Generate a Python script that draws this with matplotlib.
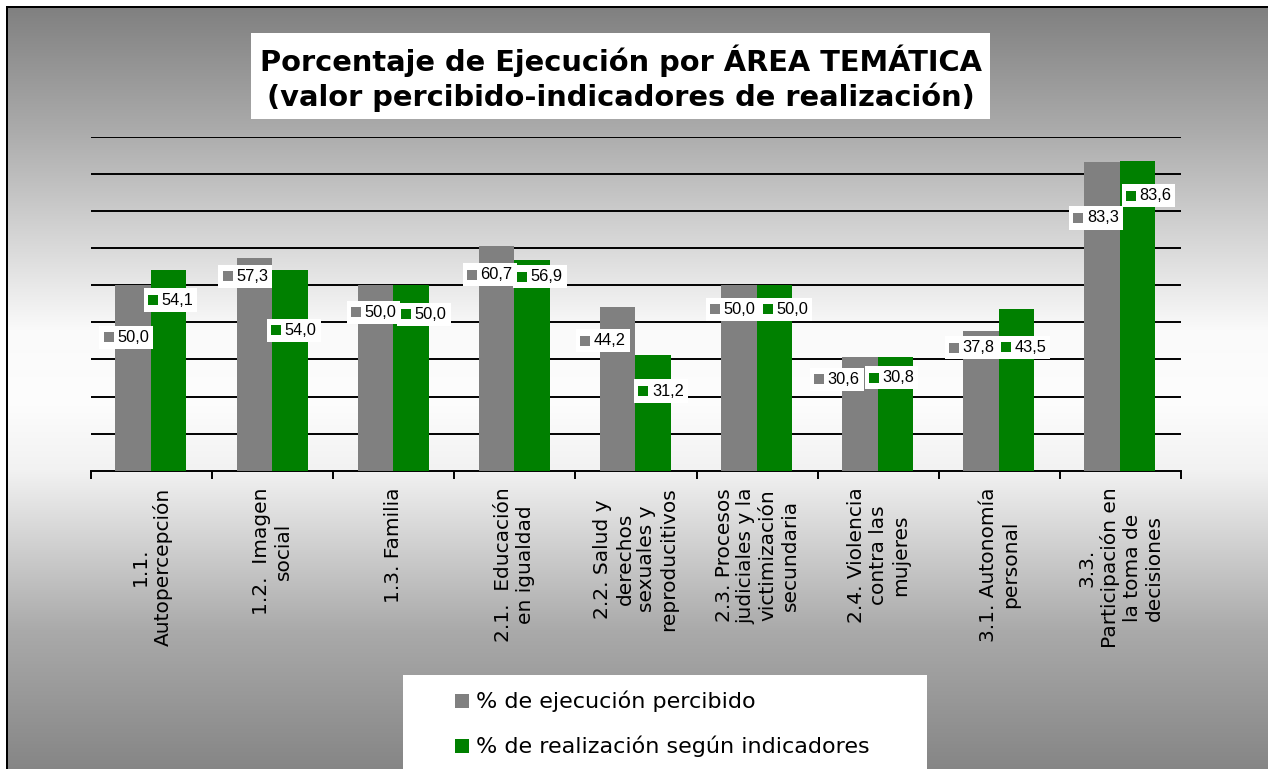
import numpy as np
import matplotlib
matplotlib.use("Agg")
import matplotlib.pyplot as plt
from matplotlib.patches import Rectangle
from matplotlib.offsetbox import DrawingArea, TextArea, HPacker, AnnotationBbox

# ---------------- data ----------------
categories = [
    "1.1.\nAutopercepción",
    "1.2.  Imagen\nsocial",
    "1.3. Familia",
    "2.1.  Educación\nen igualdad",
    "2.2. Salud y\nderechos\nsexuales y\nreproducitivos",
    "2.3. Procesos\njudiciales y la\nvictimización\nsecundaria",
    "2.4. Violencia\ncontra las\nmujeres",
    "3.1. Autonomía\npersonal",
    "3.3.\nParticipación en\nla toma de\ndecisiones",
]
percibido = [50.0, 57.3, 50.0, 60.7, 44.2, 50.0, 30.6, 37.8, 83.3]
indicadores = [54.1, 54.0, 50.0, 56.9, 31.2, 50.0, 30.8, 43.5, 83.6]
series_names = ["% de ejecución percibido", "% de realización según indicadores"]
title = "Porcentaje de Ejecución por ÁREA TEMÁTICA\n(valor percibido-indicadores de realización)"

# label placement offsets (pixels from bar top centre)
lab_off_gray = [(-7, -52), (-9, -18), (-2, -27), (-7, -29), (-15, -34),
                (-6, -24), (-23, -22), (-9, -17), (-6, -56)]
lab_off_green = [(2, -30), (4, -60), (13, -29), (8, -17), (8, -36),
                 (11, -24), (-4, -21), (7, -38), (11, -35)]

GRAY = "#808080"
GREEN = "#008000"
W, H = 1268, 769

fig = plt.figure(figsize=(W / 100, H / 100), dpi=100)

# ---------------- background gradient (pixel image) ----------------
rows = np.arange(H) + 0.5
knots_y = [7, 130, 330, 400, 470, 630, 775]
knots_v = [0x80, 0xab, 0xfa, 0xfd, 0xf2, 0xaa, 0x84]
vals = np.interp(rows, knots_y, knots_v) / 255.0
img = np.ones((H, W, 3))
img[:, :, :] = vals[:, None, None]
img[:7, :, :] = 1.0
img[:, :7, :] = 1.0
img[6:8, 6:, :] = 0.0   # top border
img[6:, 6:8, :] = 0.0   # left border
fig.figimage(img, xo=0, yo=0, origin="upper", zorder=-20)

bg = fig.add_axes([0, 0, 1, 1], zorder=-10)
bg.set_xlim(0, W)
bg.set_ylim(H, 0)
bg.axis("off")
bg.patch.set_alpha(0)

# title box
bg.add_patch(Rectangle((251, 33), 739, 86, facecolor="white", edgecolor="none"))
bg.text(621, 78, title, ha="center", va="center", multialignment="center",
        fontsize=20.8, fontweight="bold", family="DejaVu Sans", linespacing=1.22)

# legend box (manual)
bg.add_patch(Rectangle((403, 675), 524, 100, facecolor="white", edgecolor="none"))
for i, (name, col) in enumerate(zip(series_names, [GRAY, GREEN])):
    yc = 701 + i * 45
    bg.add_patch(Rectangle((455, yc - 7), 14, 14, facecolor=col, edgecolor="none"))
    bg.text(476, yc, name, ha="left", va="center", fontsize=16, family="DejaVu Sans")

# ---------------- main axes ----------------
ax_left, ax_right = 91 / W, 1181 / W
ax_bottom, ax_top = 1 - 470.7 / H, 1 - 137 / H
ax = fig.add_axes([ax_left, ax_bottom, ax_right - ax_left, ax_top - ax_bottom])
ax.patch.set_alpha(0)
x = np.arange(len(categories))
bw = 0.293
ax.bar(x - bw / 2 - 0.005, percibido, bw, color=GRAY, zorder=3)
ax.bar(x + bw / 2 - 0.005, indicadores, bw, color=GREEN, zorder=3)
ax.set_xlim(-0.5, len(categories) - 0.5)
ax.set_ylim(0, 90)
ax.set_yticks(np.arange(10, 91, 10))
ax.yaxis.grid(True, color="black", lw=1.4, zorder=1)
ax.tick_params(axis="y", left=False, labelleft=False)
for s in ["left", "right", "top"]:
    ax.spines[s].set_visible(False)
ax.spines["bottom"].set_linewidth(1.4)
ax.set_xticks(x)
ax.set_xticklabels(categories, rotation=90, ha="center", va="top",
                   multialignment="center", fontsize=14.5, family="DejaVu Sans",
                   linespacing=1.2)
ax.tick_params(axis="x", which="major", length=0, pad=12)
ax.set_xticks(np.arange(-0.5, len(categories), 1), minor=True)
ax.tick_params(axis="x", which="minor", length=6, width=1.4, direction="out")

# ---------------- data labels ----------------
def add_label(xv, yv, val, col, off):
    da = DrawingArea(7.2, 7.2, 0, 0)
    da.add_artist(Rectangle((0, 0), 7.2, 7.2, facecolor=col, edgecolor="none"))
    ta = TextArea(f"{val:.1f}".replace(".", ","),
                  textprops=dict(fontsize=11.8, family="Liberation Sans", color="black"))
    pack = HPacker(children=[da, ta], align="center", pad=0, sep=2.5)
    ab = AnnotationBbox(pack, (xv, yv), xybox=off, boxcoords="offset pixels",
                        frameon=True, pad=0.52,
                        bboxprops=dict(facecolor="white", edgecolor="none", boxstyle="square"),
                        zorder=5)
    ax.add_artist(ab)

for i in range(len(categories)):
    add_label(x[i] - bw / 2 - 0.005, percibido[i], percibido[i], GRAY, lab_off_gray[i])
    add_label(x[i] + bw / 2 - 0.005, indicadores[i], indicadores[i], GREEN, lab_off_green[i])

fig.savefig("out.png", dpi=100)
